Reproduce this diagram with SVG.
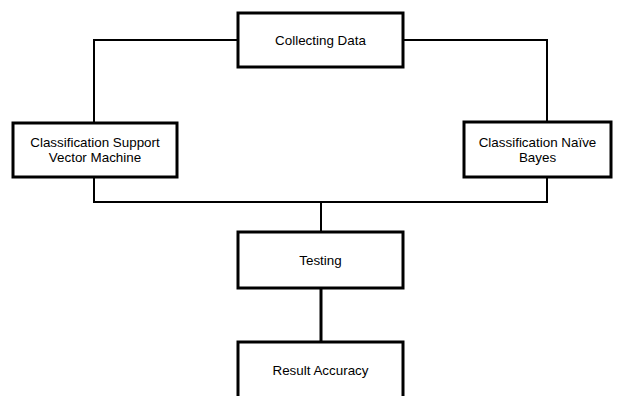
<svg xmlns="http://www.w3.org/2000/svg" width="620" height="396" viewBox="0 0 620 396">
<style>
.box{fill:#fff;stroke:#000;stroke-width:3}
.t{font-family:"Liberation Sans",Arial,sans-serif;font-size:13.4px;fill:#000;text-anchor:middle}
.c{fill:none;stroke:#000;stroke-width:2}
</style>
<rect width="620" height="396" fill="#fff"/>
<g id="connectors">
<polyline class="c" points="238,40 94,40 94,123"/>
<polyline class="c" points="403,40 547,40 547,122"/>
<polyline class="c" points="94,177 94,202 547,202 547,177"/>
<line class="c" x1="321" y1="202" x2="321" y2="232"/>
<line class="c" x1="321" y1="288" x2="321" y2="342" style="stroke-width:3"/>
</g>
<g id="collecting">
<rect class="box" x="238" y="13" width="165" height="54"/>
<text class="t" x="320.5" y="44.5">Collecting Data</text>
</g>
<g id="svm">
<rect class="box" x="13" y="123" width="164" height="54"/>
<text class="t" x="95" y="146.5">Classification Support</text>
<text class="t" x="95" y="162">Vector Machine</text>
</g>
<g id="nb">
<rect class="box" x="464" y="122" width="147" height="55"/>
<text class="t" x="537.5" y="146.5">Classification Naïve</text>
<text class="t" x="537.5" y="162">Bayes</text>
</g>
<g id="testing">
<rect class="box" x="238" y="232" width="165" height="56"/>
<text class="t" x="320.5" y="264.5">Testing</text>
</g>
<g id="result">
<rect class="box" x="238" y="342" width="165" height="58"/>
<text class="t" x="320.5" y="374.5">Result Accuracy</text>
</g>
</svg>
